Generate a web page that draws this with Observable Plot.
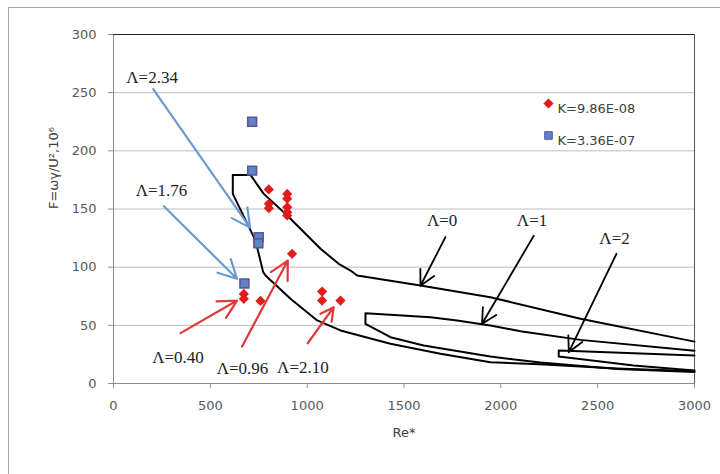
<!DOCTYPE html>
<html><head><meta charset="utf-8">
<script src="https://cdn.jsdelivr.net/npm/d3@7"></script>
<script src="https://cdn.jsdelivr.net/npm/@observablehq/plot@0.6"></script>
<style>
body{margin:0;background:#fff;overflow:hidden;}
#wrap{position:relative;width:720px;height:474px;overflow:hidden;background:#fff;}
#border{position:absolute;left:8px;top:7px;width:800px;height:600px;border:1px solid #a6a6a6;}
#chart{position:absolute;left:0;top:0;}
</style></head><body>
<div id="wrap"><div id="border"></div><div id="chart"></div></div>
<script>
// Axis ticks
const xTicks = [0, 500, 1000, 1500, 2000, 2500, 3000];
const yTicks = [0, 50, 100, 150, 200, 250, 300];
const gridF = [50, 100, 150, 200, 250];

// Series K=9.86E-08 (red diamonds)
const redRe = [802, 802, 802, 897, 897, 897, 897, 897, 922, 673, 673, 759, 1077, 1077, 1172];
const redF  = [166.8, 154.5, 150.7, 163, 158.8, 151.6, 147.3, 144.4, 111.5, 77, 72.8, 71, 79, 71.3, 71.3];
// Series K=3.36E-07 (blue squares)
const blueRe = [716, 716, 750, 748, 676];
const blueF  = [225, 183, 125.8, 120.5, 86];

// Stability curves
const lam0Re = [3000, 2600, 2200, 1946, 1688, 1430, 1172, 1052, 914, 785, 773, 733, 616, 616, 707, 776, 897, 1069, 1163, 1224, 1258, 1585, 1946, 2411, 3000];
const lam0F  = [10.5, 13, 16.5, 18.3, 25.5, 34.1, 45.6, 54.2, 72.8, 92.8, 95.7, 123, 163, 179.3, 179.3, 163, 144.4, 115.8, 102.9, 97.1, 92.8, 84.2, 74.2, 55.6, 36];
const lam1Re = [3000, 2600, 2204, 1946, 1602, 1430, 1301, 1301, 1637, 1774, 1946, 2101, 2411, 3000];
const lam1F  = [9.8, 12.5, 18, 23.2, 32.7, 39.8, 51.2, 60.4, 57, 54.2, 49.9, 45, 37.5, 28.2];
const lam2Re = [3000, 2686, 2299, 2299, 2340, 3000];
const lam2F  = [11.2, 15.5, 23.2, 28.4, 28.2, 24];

// Annotations
const annText = ["Λ=2.34", "Λ=1.76", "Λ=0", "Λ=1", "Λ=2", "Λ=0.40", "Λ=0.96", "Λ=2.10"];
const annRe   = [199, 248, 1697, 2161, 2587, 333, 666, 978];
const annF    = [263.4, 166, 140, 140, 124.6, 22, 12.6, 14];

const blackArrowRe1 = [1714, 2170, 2597], blackArrowF1 = [125.8, 127, 111.5];
const blackArrowRe2 = [1585, 1903, 2351], blackArrowF2 = [84, 51.3, 27];
const blueArrowRe1 = [205, 260], blueArrowF1 = [253, 152.4];
const blueArrowRe2 = [705, 638], blueArrowF2 = [134, 90];
const redArrowRe1 = [346, 664, 1003], redArrowF1 = [43.3, 31.8, 34.6];
const redArrowRe2 = [638, 900, 1137], redArrowF2 = [71.3, 105.7, 65.6];

// Legend
const legendLabels = ["K=9.86E-08", "K=3.36E-07"];

const RED = "#e31b1b";
const BLUE_FILL = "#5a86c5", BLUE_STROKE = "#65509a";
const serif = "Liberation Serif";

const chart = Plot.plot({
  width: 720, height: 474,
  marginLeft: 113, marginRight: 26, marginTop: 34, marginBottom: 91,
  style: {background: "transparent", fontFamily: "DejaVu Sans", fontSize: "13px", color: "#595959"},
  x: {domain: [0, 3000]},
  y: {domain: [0, 300]},
  marks: [
    Plot.ruleY(gridF, {stroke: "#bdbdbd", strokeWidth: 1}),
    Plot.ruleX([0], {stroke: "#8c8c8c"}),
    Plot.ruleY([0], {stroke: "#8c8c8c"}),
    Plot.ruleY([300], {stroke: "#222"}),
    Plot.ruleX([3000], {stroke: "#555"}),
    Plot.axisX({ticks: xTicks, tickSize: 5, tickPadding: 12, stroke: "#8c8c8c", fill: "#595959", label: null, tickFormat: d => String(d)}),
    Plot.axisY({ticks: yTicks, tickSize: 5, tickPadding: 12, stroke: "#8c8c8c", fill: "#595959", label: null, tickFormat: d => String(d)}),
    Plot.text(["F=ωγ/U²,10⁶"], {frameAnchor: "left", dx: -60, rotate: -90, fill: "#404040", fontSize: 13}),
    Plot.text(["Re*"], {frameAnchor: "bottom", dy: 53, fill: "#404040", fontSize: 13}),
    Plot.line(lam0Re, {x: lam0Re, y: lam0F, stroke: "#000", strokeWidth: 2}),
    Plot.line(lam1Re, {x: lam1Re, y: lam1F, stroke: "#000", strokeWidth: 2}),
    Plot.line(lam2Re, {x: lam2Re, y: lam2F, stroke: "#000", strokeWidth: 2}),
    Plot.arrow(blackArrowRe1, {x1: blackArrowRe1, y1: blackArrowF1, x2: blackArrowRe2, y2: blackArrowF2, stroke: "#000", strokeWidth: 1.8, headLength: 14, headAngle: 55}),
    Plot.arrow(blueArrowRe1, {x1: blueArrowRe1, y1: blueArrowF1, x2: blueArrowRe2, y2: blueArrowF2, stroke: "#6a9bd0", strokeWidth: 2.2, headLength: 14, headAngle: 55}),
    Plot.arrow(redArrowRe1, {x1: redArrowRe1, y1: redArrowF1, x2: redArrowRe2, y2: redArrowF2, stroke: "#e0393a", strokeWidth: 2.2, headLength: 14, headAngle: 55}),
    Plot.dot(redRe, {x: redRe, y: redF, symbol: "diamond2", r: 4.6, fill: RED, stroke: "none"}),
    Plot.dot(blueRe, {x: blueRe, y: blueF, symbol: "square", r: 5, fill: BLUE_FILL, stroke: BLUE_STROKE, strokeWidth: 1.6}),
    Plot.text(annText, {x: annRe, y: annF, text: d => d, fontFamily: serif, fontSize: 17, fill: "#222"}),
    // Legend
    Plot.dot([legendLabels[0]], {frameAnchor: "top-left", dx: 435, dy: 69, symbol: "diamond2", r: 4.6, fill: RED}),
    Plot.dot([legendLabels[1]], {frameAnchor: "top-left", dx: 435, dy: 101, symbol: "square", r: 4.3, fill: BLUE_FILL, stroke: BLUE_STROKE, strokeWidth: 1}),
    Plot.text([legendLabels[0]], {frameAnchor: "top-left", dx: 444, dy: 69, textAnchor: "start", fill: "#404040", fontSize: 13}),
    Plot.text([legendLabels[1]], {frameAnchor: "top-left", dx: 444, dy: 101, textAnchor: "start", fill: "#404040", fontSize: 13})
  ]
});
document.getElementById("chart").appendChild(chart);
</script>
</body></html>
